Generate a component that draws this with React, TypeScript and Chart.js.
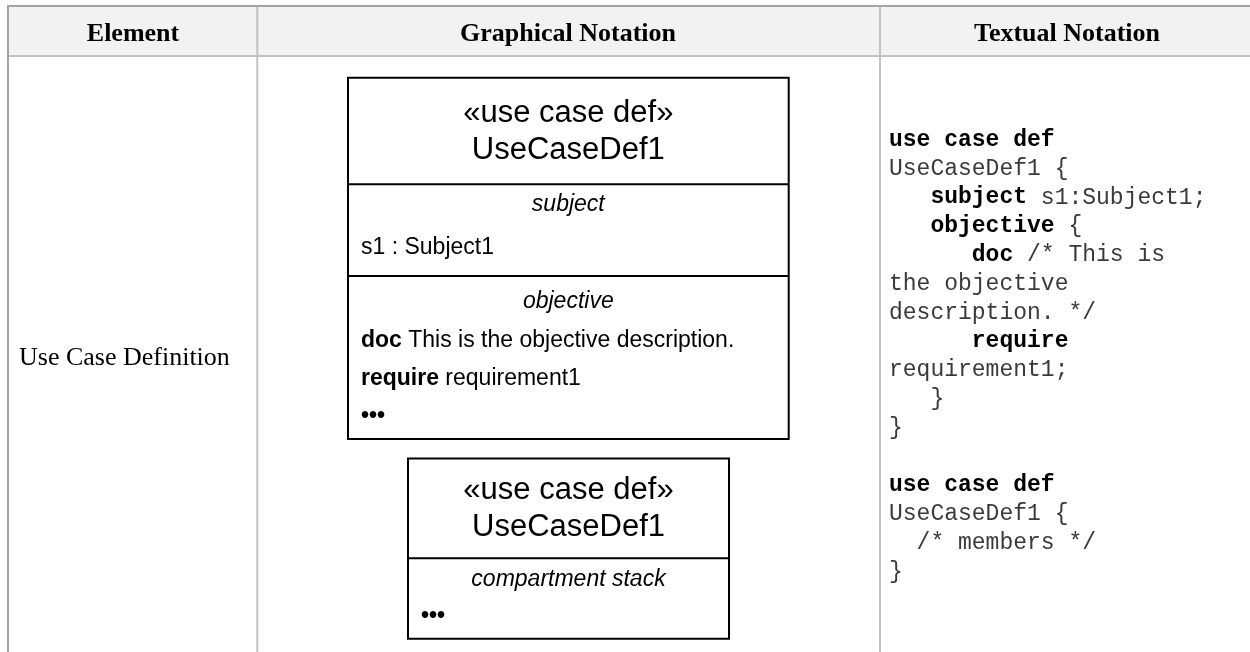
import React, { useEffect, useRef } from "react";
import { Chart, registerables } from "chart.js";

Chart.register(...registerables);

// ---- content ----
const headerLabels = ["Element", "Graphical Notation", "Textual Notation"];
const elementLabels = ["Use Case Definition"];
const box1Title = ["«use case def»", "UseCaseDef1"];
const box1SubjectLabel = "subject";
const box1SubjectLines = ["s1 : Subject1"];
const box1ObjectiveLabel = "objective";
const box1ObjectiveLines = ["**doc** This is the objective description.", "**require** requirement1", "**•••**"];
const box2Title = ["«use case def»", "UseCaseDef1"];
const box2StackLabel = "compartment stack";
const box2StackLines = ["**•••**"];
const codeLines = [
  "**use case def**",
  "UseCaseDef1 {",
  "   **subject** s1:Subject1;",
  "   **objective** {",
  "      **doc** /* This is",
  "the objective",
  "description. */",
  "      **require**",
  "requirement1;",
  "   }",
  "}",
  "",
  "**use case def**",
  "UseCaseDef1 {",
  "  /* members */",
  "}",
];

// ---- layout (in scale units = page pixels) ----
const W = 1250;
const H = 652;
const SANS = "'Liberation Sans', Arial, sans-serif";
const SERIF = "'Liberation Serif', 'Times New Roman', serif";
const MONO = "'Liberation Mono', 'Courier New', monospace";

type Seg = { t: string; b: boolean };
function parse(s: string): Seg[] {
  const parts = s.split("**");
  return parts.map((t, i) => ({ t, b: i % 2 === 1 })).filter((p) => p.t.length > 0);
}

function drawRich(
  ctx: CanvasRenderingContext2D,
  text: string,
  x: number,
  y: number,
  size: number,
  family: string,
  align: "left" | "center",
  color: string,
  boldColor: string,
  italic = false
) {
  const segs = parse(text);
  const fontFor = (b: boolean) => `${italic ? "italic " : ""}${b ? "bold " : ""}${size}px ${family}`;
  let total = 0;
  for (const s of segs) {
    ctx.font = fontFor(s.b);
    total += ctx.measureText(s.t).width;
  }
  let cx = align === "center" ? x - total / 2 : x;
  ctx.textAlign = "left";
  ctx.textBaseline = "middle";
  for (const s of segs) {
    ctx.font = fontFor(s.b);
    ctx.fillStyle = s.b ? boldColor : color;
    ctx.fillText(s.t, cx, y);
    cx += ctx.measureText(s.t).width;
  }
}

const tablePlugin = {
  id: "tablePlugin",
  afterDraw(chart: any) {
    const ctx: CanvasRenderingContext2D = chart.ctx;
    const xs = chart.scales.x;
    const ys = chart.scales.y;
    const px = (v: number) => xs.getPixelForValue(v);
    const py = (v: number) => ys.getPixelForValue(v);
    ctx.save();

    // background
    ctx.fillStyle = "#ffffff";
    ctx.fillRect(px(0), py(0), px(W) - px(0), py(H) - py(0));

    // header fill
    ctx.fillStyle = "#f2f2f2";
    ctx.fillRect(px(9), py(7), px(W) - px(9), py(55) - py(7));

    const line = (x1: number, y1: number, x2: number, y2: number, color: string, lw: number) => {
      ctx.beginPath();
      ctx.strokeStyle = color;
      ctx.lineWidth = lw;
      ctx.moveTo(px(x1), py(y1));
      ctx.lineTo(px(x2), py(y2));
      ctx.stroke();
    };

    // inner grid lines
    line(9, 56, W, 56, "#c2c2c2", 2);
    line(257.3, 7, 257.3, H, "#c2c2c2", 2);
    line(880, 7, 880, H, "#c2c2c2", 2);
    // outer borders
    line(7, 6, W, 6, "#a3a3a3", 2);
    line(8, 5, 8, H, "#a3a3a3", 2);

    // header labels
    const headerCenters = [133, 568, 1067];
    headerLabels.forEach((l, i) => {
      ctx.font = `bold 26px ${SERIF}`;
      ctx.fillStyle = "#000";
      ctx.textAlign = "center";
      ctx.textBaseline = "alphabetic";
      ctx.fillText(l, px(headerCenters[i]), py(41));
    });

    // element column
    ctx.font = `26px ${SERIF}`;
    ctx.fillStyle = "#000";
    ctx.textAlign = "left";
    ctx.textBaseline = "alphabetic";
    ctx.fillText(elementLabels[0], px(19), py(365));

    // boxes
    const rect = (x1: number, y1: number, x2: number, y2: number) => {
      ctx.beginPath();
      ctx.strokeStyle = "#000";
      ctx.lineWidth = 2;
      ctx.rect(px(x1), py(y1), px(x2) - px(x1), py(y2) - py(y1));
      ctx.stroke();
    };
    rect(348, 77.7, 788.7, 439);
    line(348, 184.3, 788.7, 184.3, "#000", 2);
    line(348, 276, 788.7, 276, "#000", 2);
    rect(408, 458.5, 729, 638.7);
    line(408, 558.3, 729, 558.3, "#000", 2);

    // box 1 text
    const c1 = 568.3;
    drawRich(ctx, box1Title[0], px(c1), py(113), 31, SANS, "center", "#000", "#000");
    drawRich(ctx, box1Title[1], px(c1), py(150), 31, SANS, "center", "#000", "#000");
    drawRich(ctx, box1SubjectLabel, px(c1), py(205), 23, SANS, "center", "#000", "#000", true);
    box1SubjectLines.forEach((l, i) =>
      drawRich(ctx, l, px(361), py(248 + i * 38), 23, SANS, "left", "#000", "#000")
    );
    drawRich(ctx, box1ObjectiveLabel, px(c1), py(302), 23, SANS, "center", "#000", "#000", true);
    box1ObjectiveLines.forEach((l, i) =>
      drawRich(ctx, l, px(361), py(341 + i * 38), 23, SANS, "left", "#000", "#000")
    );

    // box 2 text
    const c2 = 568.5;
    drawRich(ctx, box2Title[0], px(c2), py(490), 31, SANS, "center", "#000", "#000");
    drawRich(ctx, box2Title[1], px(c2), py(527), 31, SANS, "center", "#000", "#000");
    drawRich(ctx, box2StackLabel, px(c2), py(580), 23, SANS, "center", "#000", "#000", true);
    box2StackLines.forEach((l, i) =>
      drawRich(ctx, l, px(421), py(617 + i * 38), 23, SANS, "left", "#000", "#000")
    );

    // code column
    codeLines.forEach((l, i) => {
      if (!l) return;
      drawRich(ctx, l, px(889), py(140 + i * 28.8), 23, MONO, "left", "#3a3a3a", "#000");
    });

    ctx.restore();
  },
};

export default function App() {
  const ref = useRef<HTMLCanvasElement | null>(null);
  useEffect(() => {
    if (!ref.current) return;
    const chart = new Chart(ref.current, {
      type: "scatter",
      data: { datasets: [{ data: [] }] },
      options: {
        animation: false,
        responsive: true,
        maintainAspectRatio: false,
        layout: { padding: 0 },
        plugins: { legend: { display: false }, tooltip: { enabled: false } },
        scales: {
          x: { type: "linear", min: 0, max: W, display: false },
          y: { type: "linear", min: 0, max: H, reverse: true, display: false },
        },
      },
      plugins: [tablePlugin],
    });
    return () => chart.destroy();
  }, []);
  return (
    <div style={{ position: "fixed", left: 0, top: 0, width: W, height: H, background: "#fff" }}>
      <canvas ref={ref} />
    </div>
  );
}
